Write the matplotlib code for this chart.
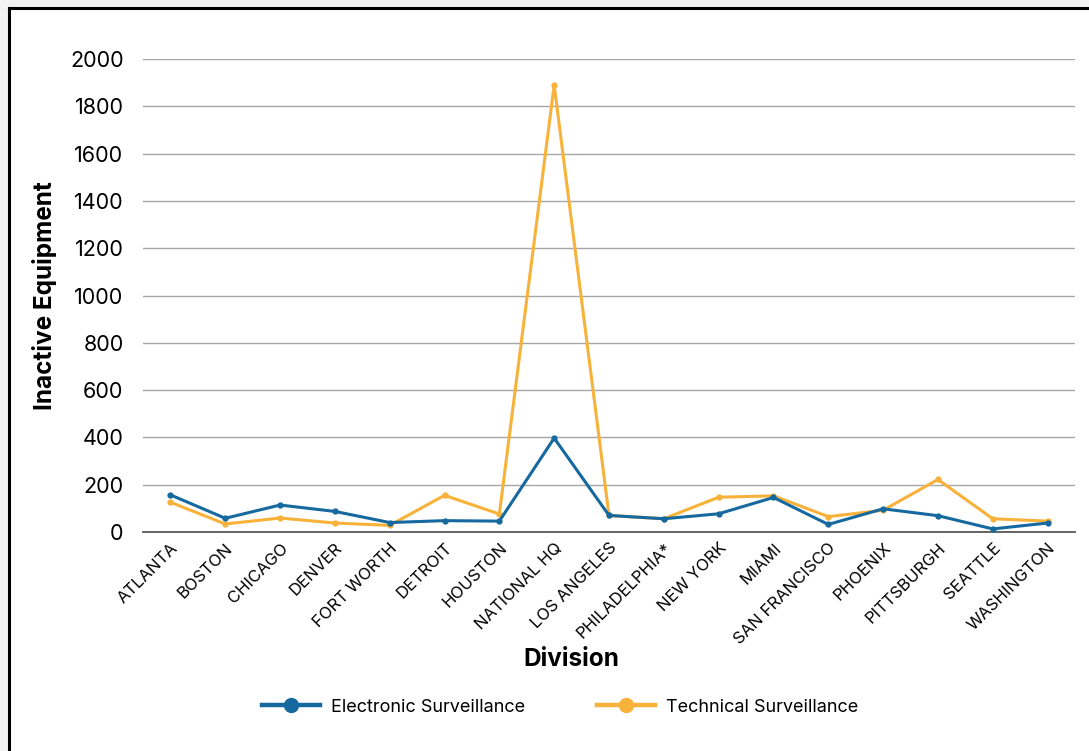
import matplotlib.pyplot as plt
from matplotlib.lines import Line2D
from matplotlib.patches import Rectangle
import matplotlib.transforms as mtransforms

plt.rcParams['font.family'] = ['Inter', 'DejaVu Sans']

divisions = ['ATLANTA', 'BOSTON', 'CHICAGO', 'DENVER', 'FORT WORTH', 'DETROIT',
             'HOUSTON', 'NATIONAL HQ', 'LOS ANGELES', 'PHILADELPHIA*', 'NEW YORK',
             'MIAMI', 'SAN FRANCISCO', 'PHOENIX', 'PITTSBURGH', 'SEATTLE', 'WASHINGTON']
electronic = [157, 58, 114, 87, 40, 48, 46, 397, 70, 56, 77, 146, 32, 98, 69, 13, 38]
technical = [126, 34, 59, 38, 28, 155, 76, 1890, 70, 56, 147, 153, 65, 92, 222, 56, 46]
yticks = [0, 200, 400, 600, 800, 1000, 1200, 1400, 1600, 1800, 2000]

blue = '#16699f'
orange = '#f8b23a'

fig = plt.figure(figsize=(10.89, 7.51), dpi=100)
fig.patch.set_facecolor('#f3f3f3')
# white card with black left/top border
card = Rectangle((9 / 1089, 0), 1, 1 - 8 / 751, transform=fig.transFigure,
                 facecolor='white', edgecolor='none', zorder=-10)
fig.add_artist(card)
fig.add_artist(Line2D([9 / 1089, 9 / 1089], [0, 1 - 8 / 751], transform=fig.transFigure,
                      color='black', lw=2.2, zorder=-9))
fig.add_artist(Line2D([9 / 1089, 1], [1 - 8 / 751, 1 - 8 / 751], transform=fig.transFigure,
                      color='black', lw=2.2, zorder=-9))

ax = fig.add_axes([143 / 1089, 1 - 532 / 751, (1075 - 143) / 1089, (532 - 59) / 751])
ax.set_facecolor('none')
x = list(range(len(divisions)))
ax.plot(x, electronic, color=blue, lw=2.2, marker='o', markersize=3.5,
        label='Electronic Surveillance', zorder=3)
ax.plot(x, technical, color=orange, lw=2.2, marker='o', markersize=3.5,
        label='Technical Surveillance', zorder=2)

ax.set_xlim(-0.5, len(divisions) - 0.5)
ax.set_ylim(0, 2000)
ax.set_yticks(yticks)
ax.set_yticklabels([str(v) for v in yticks], fontsize=15.5)
ax.set_xticks(x)
ax.set_xticklabels(divisions, rotation=45, ha='right', rotation_mode='anchor', fontsize=12)
offset = mtransforms.ScaledTranslation(9 / 100, -3 / 100, fig.dpi_scale_trans)
for lbl in ax.get_xticklabels():
    lbl.set_transform(lbl.get_transform() + offset)
ax.tick_params(axis='both', length=0)
ax.tick_params(axis='y', pad=14)
ax.tick_params(axis='x', pad=6)

ax.grid(axis='y', color='#a6a6a6', lw=1.0)
ax.set_axisbelow(True)
for s in ['top', 'right', 'left']:
    ax.spines[s].set_visible(False)
ax.spines['bottom'].set_color('#595959')
ax.spines['bottom'].set_linewidth(1.3)

ax.set_ylabel('Inactive Equipment', fontsize=17.5, fontweight='bold')
ax.yaxis.set_label_coords(-0.092, 0.5)
fig.text(571 / 1089, 1 - 660 / 751, 'Division', fontsize=17.5, fontweight='bold',
         ha='center', va='center')

handles = [Line2D([], [], color=blue, lw=3.2, marker='o', markersize=10),
           Line2D([], [], color=orange, lw=3.2, marker='o', markersize=10)]
fig.legend(handles, ['Electronic Surveillance', 'Technical Surveillance'],
           loc='center', bbox_to_anchor=(560 / 1089, 1 - 707 / 751), ncol=2,
           frameon=False, fontsize=13, handlelength=3.2, handletextpad=0.6,
           columnspacing=4.0)

fig.savefig('out.png', dpi=100, facecolor=fig.get_facecolor())
